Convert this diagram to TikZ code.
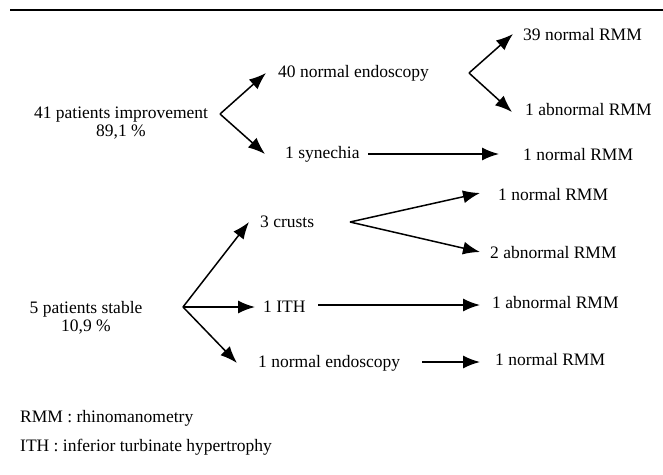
\documentclass[tikz,border=0pt]{standalone}
\usepackage{fontspec}
\setmainfont{Liberation Serif}
\usetikzlibrary{arrows.meta}
\begin{document}
\begin{tikzpicture}[x=1pt,y=-1pt,
  lbl/.style={inner sep=0pt,anchor=west,font=\fontsize{17.5}{19}\selectfont},
  ctr/.style={inner sep=0pt,align=center,font=\fontsize{17.5}{18}\selectfont},
  arr/.style={line width=1.5pt,-{Latex[length=17pt,width=13pt]}},
  rule/.style={line width=2pt}]
\useasboundingbox (0,0) rectangle (663,474);
\coordinate (rl) at (10,10);
\coordinate (rr) at (663,10);
\draw[rule] (rl) -- (rr);
% upper group
\node[ctr] (imp) at (121,123) {41 patients improvement\\89,1 \%};
\coordinate (v1) at (220,114);
\coordinate (t40) at (266,73);
\coordinate (tsyn) at (265,154);
\node[lbl] (n40) at (278,73) {40 normal endoscopy};
\node[lbl] (syn) at (285,154) {1 synechia};
\coordinate (v2) at (469,73);
\coordinate (t39) at (513,34);
\coordinate (tab1) at (512,112);
\node[lbl] (r39) at (523,35) {39 normal RMM};
\node[lbl] (rab1) at (525,110) {1 abnormal RMM};
\coordinate (s1) at (368,154);
\coordinate (ts1) at (499,154);
\node[lbl] (rn1) at (523,155) {1 normal RMM};
\draw[arr] (v1) -- (t40);
\draw[arr] (v1) -- (tsyn);
\draw[arr] (v2) -- (t39);
\draw[arr] (v2) -- (tab1);
\draw[arr] (s1) -- (ts1);
% lower group
\node[ctr] (stb) at (86,318) {5 patients stable\\10,9 \%};
\coordinate (v3) at (183,307);
\coordinate (tcr) at (249,222);
\coordinate (tith) at (255,307);
\coordinate (ten) at (237,363);
\node[lbl] (cr) at (260,222) {3 crusts};
\node[lbl] (ith) at (263,307) {1 ITH};
\node[lbl] (en) at (258,363) {1 normal endoscopy};
\coordinate (v4) at (350,222);
\coordinate (tcn) at (480,193);
\coordinate (tca) at (480,252);
\node[lbl] (rcn) at (498,195) {1 normal RMM};
\node[lbl] (rca) at (490,253) {2 abnormal RMM};
\coordinate (s2) at (318,305);
\coordinate (ts2) at (480,305);
\node[lbl] (ria) at (492,303) {1 abnormal RMM};
\coordinate (s3) at (422,362);
\coordinate (ts3) at (480,362);
\node[lbl] (ren) at (495,360) {1 normal RMM};
\draw[arr] (v3) -- (tcr);
\draw[arr] (v3) -- (tith);
\draw[arr] (v3) -- (ten);
\draw[arr] (v4) -- (tcn);
\draw[arr] (v4) -- (tca);
\draw[arr] (s2) -- (ts2);
\draw[arr] (s3) -- (ts3);
% legend
\node[lbl] (lg1) at (20,418) {RMM : rhinomanometry};
\node[lbl] (lg2) at (20,447) {ITH : inferior turbinate hypertrophy};
\end{tikzpicture}
\end{document}
